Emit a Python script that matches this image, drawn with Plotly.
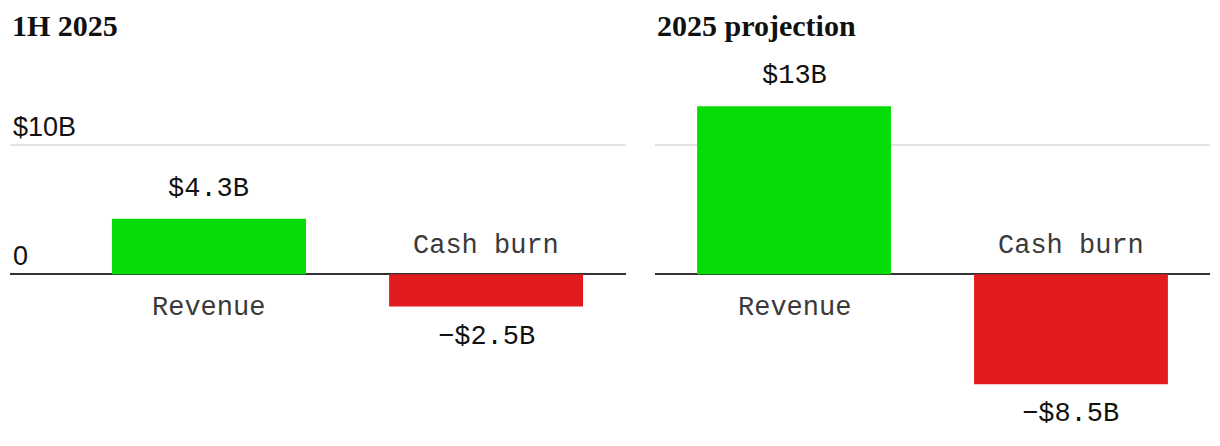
import plotly.graph_objects as go
from plotly.subplots import make_subplots

# data
categories = ["Revenue", "Cash burn"]
panel_titles = ["1H 2025", "2025 projection"]
first_half = [4.3, -2.5]
projection = [13, -8.5]
tick_vals = [0, 10]
tick_text = ["0", "$10B"]

GREEN = "#05dc05"
RED = "#e21c1e"
MONO = "Liberation Mono, DejaVu Sans Mono, monospace"
SANS = "Liberation Sans, Arial, sans-serif"
SERIF = "Liberation Serif, Georgia, serif"


def fmt(v):
    sign = "\u2212" if v < 0 else ""
    return f"{sign}${abs(v):g}B"


fig = make_subplots(rows=1, cols=2)

for col, vals in enumerate([first_half, projection], start=1):
    fig.add_trace(
        go.Bar(
            x=categories,
            y=vals,
            width=0.7,
            marker_color=[GREEN if v >= 0 else RED for v in vals],
            marker_line_width=0,
            hoverinfo="skip",
        ),
        row=1, col=col,
    )
    xref = "x" if col == 1 else "x2"
    yref = "y" if col == 1 else "y2"
    for cat, v in zip(categories, vals):
        pos = v >= 0
        # value label
        fig.add_annotation(
            x=cat, y=v, xref=xref, yref=yref, text=fmt(v), showarrow=False,
            yanchor="bottom" if pos else "top", yshift=13 if pos else -13,
            font=dict(family=MONO, size=27, color="#111111"),
        )
        # category label on the other side of zero
        fig.add_annotation(
            x=cat, y=0, xref=xref, yref=yref, text=cat, showarrow=False,
            yanchor="top" if pos else "bottom", yshift=-17 if pos else 11,
            font=dict(family=MONO, size=27, color="#3a3a3a"),
        )

W = 1220.0
fig.update_xaxes(type="category", showticklabels=False, showgrid=False,
                 zeroline=False, showline=False, fixedrange=True)
fig.update_layout(
    xaxis=dict(domain=[10 / W, 626 / W], range=[-0.718, 1.505]),
    xaxis2=dict(domain=[655 / W, 1210 / W], range=[-0.502, 1.502]),
)
fig.update_yaxes(
    range=[-13.28, 21.21], tickvals=tick_vals, showgrid=True,
    gridcolor="#e4e4e4", gridwidth=1.5, zeroline=True, zerolinecolor="#333333",
    zerolinewidth=2, showline=False, ticks="", fixedrange=True,
)
fig.update_layout(
    yaxis=dict(ticktext=tick_text, ticklabelposition="inside top",
               tickfont=dict(family=SANS, size=27, color="#111111")),
    yaxis2=dict(showticklabels=False),
)

for i, t in enumerate(panel_titles):
    fig.add_annotation(
        x=[10 / W, 655 / W][i], y=1 - 7 / 446, xref="paper", yref="paper",
        xanchor="left", yanchor="top", text=f"<b>{t}</b>", showarrow=False,
        font=dict(family=SERIF, size=30, color="#111111"),
    )

fig.update_layout(
    width=1220, height=446,
    margin=dict(l=0, r=0, t=0, b=0),
    paper_bgcolor="white", plot_bgcolor="white",
    showlegend=False, bargap=0.3,
)

fig.write_html("out.html", config={"displayModeBar": False},
               post_script="document.body.style.margin='0';")
